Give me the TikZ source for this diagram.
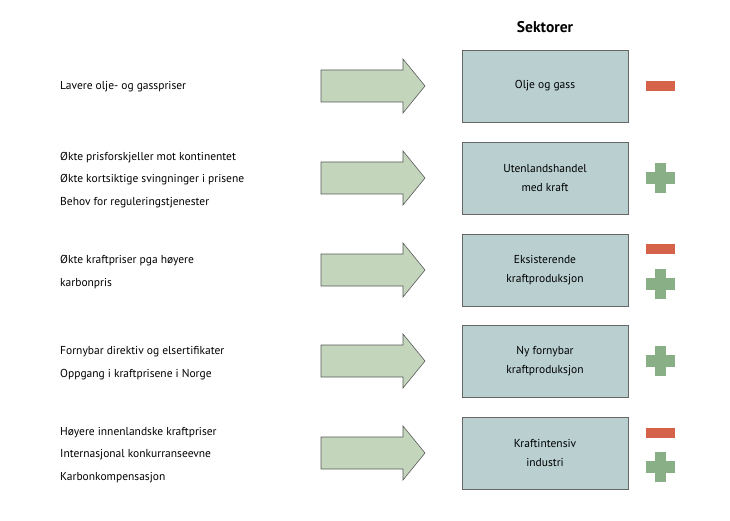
\documentclass[tikz,border=0pt]{standalone}
\usepackage{fontspec}
\setmainfont{PT Sans}
\begin{document}
\begin{tikzpicture}[x=1pt,y=-1pt,
  box/.style={draw=gray!80!black,fill=boxc,line width=0.8pt,minimum width=166pt,minimum height=72pt,align=center,font=\fontsize{11.5}{19}\selectfont},
  lbl/.style={anchor=west,align=left,inner sep=0pt,font=\fontsize{11.5}{22.5}\selectfont},
  arr/.style={fill=arrc,draw=gray!70!black,line width=0.6pt},
  minus/.style={fill=minc},
  plus/.style={fill=plusc}]
\definecolor{boxc}{HTML}{B9CFD0}
\definecolor{arrc}{HTML}{C3D6BC}
\definecolor{minc}{HTML}{D7624A}
\definecolor{plusc}{HTML}{89AF86}
\useasboundingbox (0,0) rectangle (730,521);
\node[font=\bfseries\fontsize{15.5}{18}\selectfont] (hd) at (545,27) {Sektorer};
\foreach \y/\n/\t in {86/b1/{Olje og gass},178/b2/{Utenlandshandel\\med kraft},270/b3/{Eksisterende\\kraftproduksjon},361/b4/{Ny fornybar\\kraftproduksjon},453/b5/{Kraftintensiv\\industri}}{
  \node[box] (\n) at (545,\y) {\t};
  \draw[arr] (321,\y-16) -- (403,\y-16) -- (403,\y-27) -- (425,\y) -- (403,\y+27) -- (403,\y+16) -- (321,\y+16) -- cycle;
}
\node[lbl] (t1) at (60,87) {Lavere olje- og gasspriser};
\node[lbl] (t2) at (60,180) {Økte prisforskjeller mot kontinentet\\Økte kortsiktige svingninger i prisene\\Behov for reguleringstjenester};
\node[lbl] (t3) at (60,272) {Økte kraftpriser pga høyere\\karbonpris};
\node[lbl] (t4) at (60,363) {Fornybar direktiv og elsertifikater\\Oppgang i kraftprisene i Norge};
\node[lbl] (t5) at (60,455) {Høyere innenlandske kraftpriser\\Internasjonal konkurranseevne\\Karbonkompensasjon};
\foreach \y in {86,249,433}{\fill[minus] (646,\y-5) rectangle (675,\y+5);}
\foreach \y in {178,284,361,467}{
  \fill[plus] (646,\y-6) rectangle (675,\y+6);
  \fill[plus] (655,\y-15) rectangle (666,\y+15);}
\end{tikzpicture}
\end{document}
